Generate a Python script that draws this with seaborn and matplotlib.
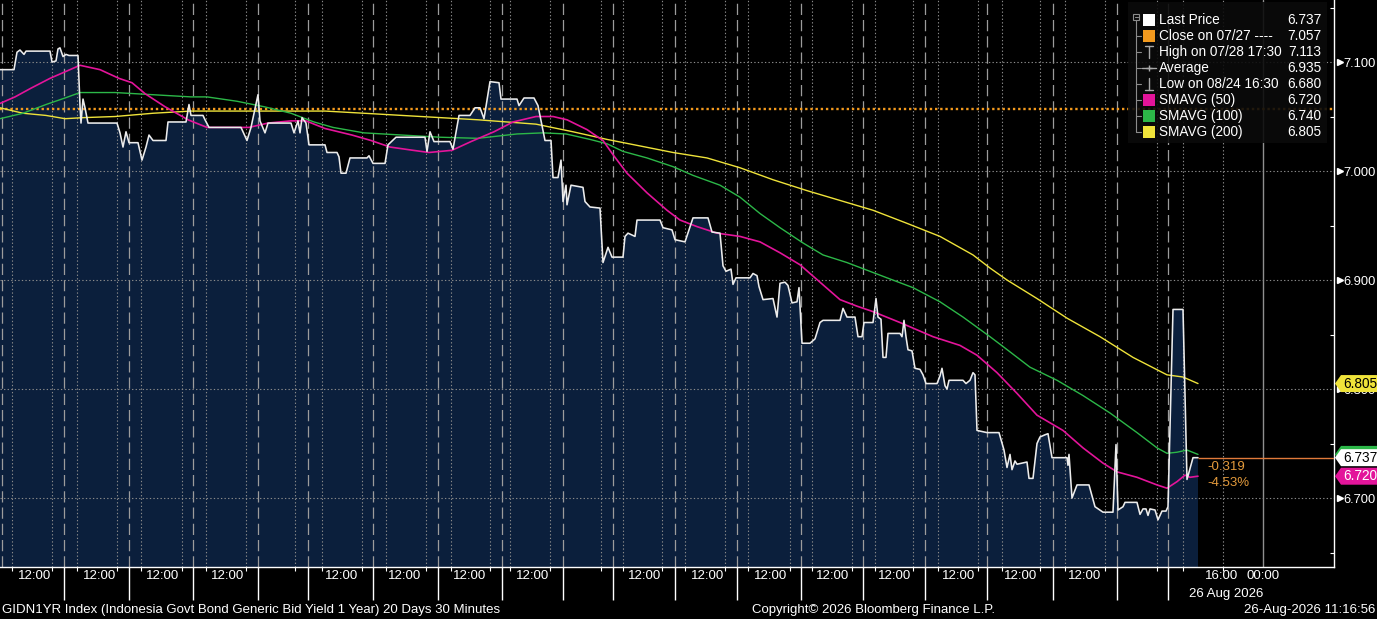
import numpy as np
import pandas as pd
import matplotlib
matplotlib.use("Agg")
import matplotlib.pyplot as plt
import matplotlib.transforms as mtrans
from matplotlib.patches import Rectangle, Polygon
import seaborn as sns

# ---------------- data ----------------
# t = compressed trading-session index (Bloomberg intraday axis, 30-minute bars)
price_series = [
    (0, 7.093), (14, 7.093), (17, 7.109), (20, 7.111), (24, 7.107), (26, 7.110), (50, 7.110),
    (52, 7.100), (56, 7.101), (58, 7.112), (60, 7.113), (63, 7.105), (66, 7.107), (69, 7.106),
    (78, 7.106), (80, 7.060), (81, 7.044), (83, 7.066), (85, 7.058), (88, 7.044), (117, 7.044),
    (120, 7.035), (123, 7.022), (126, 7.036), (129, 7.026), (138, 7.026), (142, 7.010), (146, 7.022),
    (149, 7.033), (153, 7.028), (166, 7.028), (168, 7.045), (186, 7.045), (189, 7.061), (191, 7.051),
    (203, 7.051), (205, 7.047), (209, 7.040), (241, 7.040), (247, 7.028), (251, 7.040), (258, 7.070),
    (260, 7.046), (265, 7.035), (268, 7.044), (291, 7.044), (294, 7.035), (298, 7.046), (300, 7.035),
    (302, 7.049), (306, 7.044), (309, 7.024), (325, 7.024), (327, 7.017), (337, 7.017), (339, 7.013),
    (341, 6.998), (346, 6.998), (350, 7.012), (367, 7.012), (369, 7.014), (373, 7.007), (385, 7.007),
    (388, 7.024), (396, 7.031), (425, 7.031), (427, 7.018), (430, 7.036), (434, 7.027), (450, 7.027),
    (453, 7.020), (459, 7.051), (470, 7.051), (475, 7.058), (480, 7.058), (484, 7.048), (490, 7.082),
    (499, 7.081), (501, 7.066), (517, 7.066), (519, 7.060), (524, 7.067), (534, 7.067), (538, 7.060),
    (545, 7.028), (551, 7.028), (553, 6.994), (558, 6.994), (561, 7.010), (563, 6.972), (566, 6.987),
    (567, 6.969), (571, 6.987), (583, 6.985), (585, 6.972), (590, 6.967), (600, 6.966), (603, 6.916),
    (608, 6.930), (612, 6.921), (623, 6.921), (625, 6.940), (628, 6.943), (635, 6.940), (637, 6.955),
    (660, 6.955), (663, 6.948), (672, 6.946), (675, 6.937), (685, 6.935), (693, 6.957), (708, 6.957),
    (712, 6.944), (720, 6.943), (723, 6.913), (726, 6.908), (731, 6.910), (733, 6.896), (736, 6.902),
    (750, 6.902), (753, 6.906), (757, 6.904), (759, 6.894), (763, 6.882), (773, 6.883), (777, 6.866),
    (780, 6.897), (785, 6.898), (788, 6.895), (792, 6.879), (797, 6.880), (799, 6.893), (802, 6.842),
    (810, 6.842), (815, 6.846), (820, 6.861), (823, 6.863), (840, 6.863), (843, 6.874), (847, 6.866),
    (855, 6.866), (858, 6.848), (862, 6.848), (864, 6.861), (873, 6.861), (876, 6.883), (878, 6.866),
    (881, 6.864), (883, 6.829), (886, 6.829), (888, 6.851), (900, 6.851), (902, 6.848), (904, 6.863),
    (906, 6.848), (908, 6.836), (912, 6.835), (915, 6.819), (920, 6.818), (923, 6.813), (926, 6.805),
    (937, 6.805), (940, 6.812), (942, 6.819), (945, 6.803), (947, 6.800), (949, 6.808), (963, 6.808),
    (966, 6.805), (970, 6.808), (973, 6.815), (975, 6.813), (977, 6.762), (987, 6.760), (999, 6.760),
    (1004, 6.744), (1007, 6.728), (1010, 6.740), (1012, 6.726), (1015, 6.734), (1017, 6.731),
    (1027, 6.733), (1029, 6.718), (1033, 6.718), (1037, 6.750), (1040, 6.756), (1045, 6.758),
    (1048, 6.759), (1052, 6.737), (1067, 6.737), (1068, 6.730), (1069, 6.740), (1072, 6.700),
    (1077, 6.712), (1089, 6.712), (1095, 6.692), (1103, 6.687), (1113, 6.687), (1116, 6.749),
    (1118, 6.689), (1123, 6.692), (1125, 6.696), (1137, 6.696), (1140, 6.685), (1143, 6.690),
    (1146, 6.690), (1148, 6.684), (1150, 6.690), (1155, 6.689), (1158, 6.680), (1162, 6.688),
    (1166, 6.688), (1168, 6.692), (1173, 6.873), (1183, 6.873), (1187, 6.717), (1193, 6.737),
    (1198, 6.737),
]

sma50_series = [
    (0, 7.062), (15, 7.068), (31, 7.076), (50, 7.085), (65, 7.091), (80, 7.097), (100, 7.093),
    (119, 7.085), (132, 7.081), (145, 7.071), (165, 7.059), (188, 7.047), (207, 7.040), (230, 7.040),
    (249, 7.040), (268, 7.044), (291, 7.046), (306, 7.046), (325, 7.039), (352, 7.033), (371, 7.028),
    (390, 7.022), (413, 7.019), (429, 7.017), (452, 7.019), (471, 7.027), (494, 7.036), (513, 7.045),
    (536, 7.050), (553, 7.050), (567, 7.047), (587, 7.038), (603, 7.028), (613, 7.015), (627, 6.998),
    (647, 6.980), (667, 6.964), (680, 6.955), (697, 6.949), (717, 6.943), (740, 6.940), (760, 6.935),
    (780, 6.925), (800, 6.914), (820, 6.898), (840, 6.882), (857, 6.876), (873, 6.871), (900, 6.861),
    (933, 6.848), (960, 6.840), (977, 6.831), (997, 6.815), (1017, 6.796), (1037, 6.776),
    (1063, 6.762), (1083, 6.746), (1103, 6.732), (1117, 6.724), (1137, 6.719), (1157, 6.712),
    (1167, 6.709), (1177, 6.715), (1185, 6.721), (1190, 6.719), (1198, 6.720),
]

sma100_series = [
    (0, 7.048), (23, 7.053), (46, 7.061), (65, 7.067), (80, 7.072), (115, 7.072), (153, 7.070),
    (191, 7.068), (207, 7.068), (237, 7.064), (264, 7.059), (291, 7.053), (314, 7.045), (333, 7.040),
    (364, 7.035), (402, 7.033), (440, 7.031), (478, 7.030), (517, 7.034), (543, 7.035), (566, 7.034),
    (590, 7.029), (607, 7.025), (623, 7.018), (647, 7.012), (673, 7.004), (693, 6.996), (720, 6.987),
    (740, 6.976), (760, 6.961), (780, 6.948), (803, 6.934), (823, 6.923), (847, 6.916), (867, 6.909),
    (887, 6.902), (913, 6.893), (940, 6.880), (963, 6.866), (990, 6.848), (1003, 6.839),
    (1030, 6.820), (1057, 6.808), (1083, 6.794), (1110, 6.778), (1137, 6.760), (1157, 6.746),
    (1167, 6.741), (1177, 6.742), (1187, 6.744), (1198, 6.740),
]

sma200_series = [
    (0, 7.058), (23, 7.053), (46, 7.051), (65, 7.048), (84, 7.049), (115, 7.050), (153, 7.053),
    (191, 7.055), (268, 7.055), (325, 7.055), (364, 7.053), (421, 7.050), (478, 7.047), (536, 7.043),
    (573, 7.036), (607, 7.029), (640, 7.023), (673, 7.017), (707, 7.012), (740, 7.003), (773, 6.992),
    (807, 6.982), (840, 6.973), (873, 6.964), (907, 6.952), (940, 6.940), (973, 6.923), (990, 6.911),
    (1007, 6.900), (1037, 6.883), (1067, 6.865), (1100, 6.848), (1133, 6.829), (1167, 6.813),
    (1183, 6.811), (1198, 6.805),
]

close_ref = 7.057
last_price = 6.737
change_labels = ["-0.319", "-4.53%"]

legend_labels = ["Last Price", "Close on 07/27 ----", "High on 07/28 17:30", "Average",
                 "Low on 08/24 16:30", "SMAVG (50)", "SMAVG (100)", "SMAVG (200)"]
legend_values = [6.737, 7.057, 7.113, 6.935, 6.680, 6.720, 6.740, 6.805]

day_breaks = [2, 64, 129, 193, 258, 308, 373, 438, 502, 563, 613, 675, 737, 801, 863, 925, 987,
              1053, 1117, 1168]
hour_marks = [12, 52, 77, 117, 141, 182, 206, 246, 295, 322, 362, 386, 426, 451, 490, 510, 550,
              601, 623, 662, 685, 725, 748, 790, 812, 852, 875, 913, 938, 978, 1002, 1040, 1065,
              1105, 1157, 1183, 1223]
midnight_mark = 1263
x_tick_pos = [35, 100, 163, 228, 342, 405, 470, 533, 645, 708, 771, 833, 895, 959, 1021, 1085,
              1222, 1263]
x_tick_labels = ["12:00"] * 16 + ["16:00", "00:00"]
date_label = "26 Aug 2026"
date_label_pos = 1226
x_end = 1334
y_major = [6.7, 6.8, 6.9, 7.0, 7.1]
y_minor = [6.65, 6.75, 6.85, 6.95, 7.05, 7.15]
y_range = (6.6367, 7.1569)

footer_left = "GIDN1YR Index (Indonesia Govt Bond Generic Bid Yield 1 Year) 20 Days 30 Minutes"
footer_mid = "Copyright\u00a9 2026 Bloomberg Finance L.P."
footer_right = "26-Aug-2026 11:16:56"

# ---------------- style ----------------
NAVY = "#0b1f3c"
MAGENTA = "#e3149a"
GREEN = "#2cb748"
YELLOW = "#efe33a"
ORANGE = "#f39a1e"
GRID = "#8a8a8a"

sns.set_theme(style="dark", rc={"axes.facecolor": "black", "figure.facecolor": "black"})
plt.rcParams["font.family"] = ["Liberation Sans", "DejaVu Sans"]
NARROW = ["Liberation Sans Narrow", "Liberation Sans", "DejaVu Sans"]

W, H = 1377, 619
fig = plt.figure(figsize=(W / 100, H / 100), dpi=100, facecolor="black")
ax = fig.add_axes([0, 52 / H, x_end / W, 567 / H])
ax.set_facecolor("black")

def to_df(series):
    return pd.DataFrame(series, columns=["t", "v"])

price = to_df(price_series)
sma50 = to_df(sma50_series)
sma100 = to_df(sma100_series)
sma200 = to_df(sma200_series)

# area under price
ax.fill_between(price["t"], price["v"], y_range[0] - 1, color=NAVY, lw=0, zorder=1)

# grid
for x in day_breaks:
    ax.axvline(x, color="#9c9c9c", lw=0.9, ls=(0, (9, 4)), zorder=2)
for x in hour_marks:
    ax.axvline(x, color=GRID, lw=0.8, ls=(0, (1.2, 2.0)), zorder=2)
ax.axvline(midnight_mark, color="#8f8f8f", lw=1.0, zorder=2)
for y in y_major:
    ax.axhline(y, color=GRID, lw=0.8, ls=(0, (1.2, 2.0)), zorder=2)

ax.axhline(close_ref, color=ORANGE, lw=1.7, ls=(0, (1.0, 1.2)), zorder=3)

sns.lineplot(data=sma200, x="t", y="v", ax=ax, color=YELLOW, lw=1.0, estimator=None, zorder=4)
sns.lineplot(data=sma100, x="t", y="v", ax=ax, color=GREEN, lw=1.0, estimator=None, zorder=4)
sns.lineplot(data=sma50, x="t", y="v", ax=ax, color=MAGENTA, lw=1.2, estimator=None, zorder=4)
sns.lineplot(data=price, x="t", y="v", ax=ax, color="#ececec", lw=1.15, estimator=None, zorder=5)

t_last = price["t"].iloc[-1]
ax.hlines(last_price, t_last, x_end, color="#e07a3a", lw=1.0, zorder=3)
ax.annotate(change_labels[0], xy=(t_last, last_price), xytext=(6.5, -6.5),
            textcoords="offset points", va="center", ha="left", color="#e39a3c", fontsize=9.5)
ax.annotate(change_labels[1], xy=(t_last, last_price), xytext=(6.5, -18),
            textcoords="offset points", va="center", ha="left", color="#e39a3c", fontsize=9.5)

ax.set_xlim(0, x_end)
ax.set_ylim(*y_range)
ax.set_xlabel("")
ax.set_ylabel("")

# spines
for s in ["left", "top"]:
    ax.spines[s].set_visible(False)
for s in ["right", "bottom"]:
    ax.spines[s].set_visible(True)
    ax.spines[s].set_color("white")
    ax.spines[s].set_linewidth(1.0)

# x ticks
ax.set_xticks(x_tick_pos, x_tick_labels)
ax.set_xticks(hour_marks, minor=True)
ax.tick_params(axis="x", which="major", length=0, pad=2.5, labelsize=9.5, labelcolor="white")
ax.tick_params(axis="x", which="minor", length=3, width=0.8, color="white", direction="out",
               bottom=True)
for lab in ax.get_xticklabels():
    lab.set_family(NARROW)

blend_xa = mtrans.blended_transform_factory(ax.transData, ax.transAxes)
ax.vlines(day_breaks[1:], -0.058, 0, transform=blend_xa, color="white", lw=1.0, clip_on=False)
ax.text(date_label_pos, -0.048, date_label, transform=blend_xa, ha="center", va="center",
        color="white", fontsize=9.5, family=NARROW)

# y ticks on right
ax.yaxis.tick_right()
ax.set_yticks(y_major, [f"{v:.3f}" for v in y_major])
ax.set_yticks(y_minor, minor=True)
ax.tick_params(axis="y", which="major", length=0, pad=6.5, labelsize=9.3, labelcolor="white",
               right=True, left=False)
ax.tick_params(axis="y", which="minor", length=3, width=0.8, color="white", direction="in",
               right=True, left=False)
blend_ay = mtrans.blended_transform_factory(ax.transAxes, ax.transData)
ax.plot([1 + 5.5 / x_end] * len(y_major), y_major, ls="none", marker=">", ms=5, color="white",
        transform=blend_ay, clip_on=False, zorder=6)
ax.grid(False)

# ---------------- overlay (legend, tags, footer) ----------------
ov = fig.add_axes([0, 0, 1, 1], facecolor="none")
ov.set_xlim(0, W)
ov.set_ylim(H, 0)
ov.axis("off")
ov.set_zorder(10)

def ypix(v):
    return H - ax.transData.transform((0, v))[1]

# legend box
ov.add_patch(Rectangle((1128, 2), 199, 141, fc="#0b0b0b", ec="none", alpha=0.9))
row_y = [20 + 16 * i for i in range(len(legend_labels))]
sym_colors = ["white", ORANGE, None, None, None, MAGENTA, GREEN, YELLOW]
tree_c = "#8c8c8c"
ov.add_patch(Rectangle((1133, 14), 6, 6, fc="none", ec=tree_c, lw=0.8))
ov.plot([1134.5, 1137.5], [17, 17], color=tree_c, lw=0.8)
ov.plot([1136, 1136], [20, row_y[-1]], color=tree_c, lw=0.8)
for i, (lab, val, col, y) in enumerate(zip(legend_labels, legend_values, sym_colors, row_y)):
    if i > 0:
        ov.plot([1136, 1141], [y, y], color=tree_c, lw=0.8)
    if col is not None:
        ov.add_patch(Rectangle((1143, y - 6), 12, 12, fc=col, ec="none"))
    elif i == 2:  # high
        ov.plot([1149, 1149], [y - 6, y + 6], color="#a8a8a8", lw=1.0)
        ov.plot([1145, 1153], [y - 6, y - 6], color="#a8a8a8", lw=1.0)
    elif i == 3:  # average
        ov.plot([1142, 1156], [y, y], color="#a8a8a8", lw=1.0)
        ov.plot([1149], [y], marker="+", ms=5, color="#a8a8a8", mew=1.0)
    elif i == 4:  # low
        ov.plot([1149, 1149], [y - 6, y + 6], color="#a8a8a8", lw=1.0)
        ov.plot([1145, 1153], [y + 6, y + 6], color="#a8a8a8", lw=1.0)
    ov.text(1159, y, lab, color="white", fontsize=9.8, va="center", ha="left")
    ov.text(1321, y, f"{val:.3f}", color="white", fontsize=9.8, va="center", ha="right")

# value tags on the right axis (later tags drawn above earlier ones)
def tag(v, fc, tc, z, show_text=True):
    yc = ypix(v)
    poly = Polygon([(1335, yc), (1341, yc - 8.5), (W, yc - 8.5), (W, yc + 8.5), (1341, yc + 8.5)],
                   closed=True, fc=fc, ec="none", zorder=z)
    ov.add_patch(poly)
    if show_text:
        ov.text(1343, yc, f"{v:.3f}", color=tc, fontsize=9.8, va="center", ha="left",
                zorder=z + 0.5)

# the SMAVG(100) tag sits almost fully behind the last-price tag; only its edge shows
tag(legend_values[6], GREEN, "black", 20, show_text=False)
tag(legend_values[7], YELLOW, "black", 22)
tag(legend_values[0], "white", "black", 24)
tag(legend_values[5], MAGENTA, "white", 26)

# footer
ov.text(2, 610, footer_left, color="white", fontsize=9.5, va="center", ha="left", family=NARROW)
ov.text(752, 610, footer_mid, color="white", fontsize=9.5, va="center", ha="left", family=NARROW)
ov.text(1375, 610, footer_right, color="white", fontsize=9.5, va="center", ha="right",
        family=NARROW)

fig.savefig("out.png", dpi=100, facecolor="black")
